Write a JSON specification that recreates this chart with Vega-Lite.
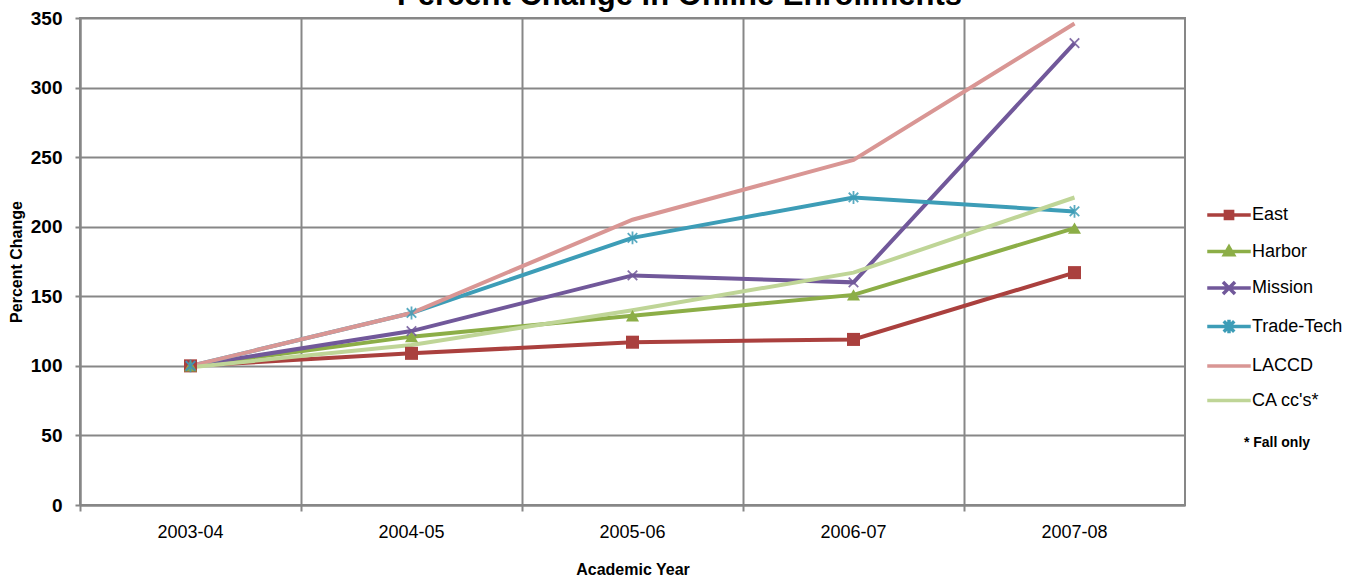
{
  "$schema": "https://vega.github.io/schema/vega-lite/v6.json",
  "width": 1105,
  "height": 487,
  "autosize": {"type": "none"},
  "padding": {"left": 80, "top": 18, "right": 174, "bottom": 74},
  "background": "white",
  "title": {
    "text": "Percent Change in Online Enrollments",
    "fontSize": 31,
    "fontWeight": "bold",
    "font": "Liberation Sans",
    "color": "#000000",
    "anchor": "middle",
    "dx": 47,
    "offset": 0,
    "dy": 27,
    "baseline": "alphabetic"
  },
  "config": {
    "view": {"stroke": "#878787", "strokeWidth": 2},
    "font": "Liberation Sans"
  },
  "data": {
    "values": [
      {"year": "2003-04", "series": "East", "value": 100},
      {"year": "2004-05", "series": "East", "value": 109},
      {"year": "2005-06", "series": "East", "value": 117},
      {"year": "2006-07", "series": "East", "value": 119},
      {"year": "2007-08", "series": "East", "value": 167},
      {"year": "2003-04", "series": "Harbor", "value": 100},
      {"year": "2004-05", "series": "Harbor", "value": 121},
      {"year": "2005-06", "series": "Harbor", "value": 136},
      {"year": "2006-07", "series": "Harbor", "value": 151},
      {"year": "2007-08", "series": "Harbor", "value": 199},
      {"year": "2003-04", "series": "Mission", "value": 100},
      {"year": "2004-05", "series": "Mission", "value": 125},
      {"year": "2005-06", "series": "Mission", "value": 165},
      {"year": "2006-07", "series": "Mission", "value": 160},
      {"year": "2007-08", "series": "Mission", "value": 332},
      {"year": "2003-04", "series": "Trade-Tech", "value": 100},
      {"year": "2004-05", "series": "Trade-Tech", "value": 138},
      {"year": "2005-06", "series": "Trade-Tech", "value": 192},
      {"year": "2006-07", "series": "Trade-Tech", "value": 221},
      {"year": "2007-08", "series": "Trade-Tech", "value": 211},
      {"year": "2003-04", "series": "LACCD", "value": 100},
      {"year": "2004-05", "series": "LACCD", "value": 138},
      {"year": "2005-06", "series": "LACCD", "value": 205},
      {"year": "2006-07", "series": "LACCD", "value": 248},
      {"year": "2007-08", "series": "LACCD", "value": 346},
      {"year": "2003-04", "series": "CA cc's*", "value": 99},
      {"year": "2004-05", "series": "CA cc's*", "value": 115},
      {"year": "2005-06", "series": "CA cc's*", "value": 140},
      {"year": "2006-07", "series": "CA cc's*", "value": 167},
      {"year": "2007-08", "series": "CA cc's*", "value": 221}
    ]
  },
  "encoding": {
    "x": {
      "field": "year",
      "type": "ordinal",
      "sort": null,
      "scale": {"type": "band", "paddingInner": 0, "paddingOuter": 0},
      "axis": {
        "title": "Academic Year",
        "titleFontSize": 16,
        "titleFontWeight": "bold",
        "titleColor": "#000000",
        "titlePadding": 20,
        "labelAngle": 0,
        "labelFontSize": 18,
        "labelColor": "#000000",
        "labelPadding": 12,
        "bandPosition": 0,
        "grid": true,
        "gridColor": "#878787",
        "gridWidth": 2,
        "domainColor": "#878787",
        "domainWidth": 2,
        "tickColor": "#878787",
        "tickWidth": 2,
        "tickSize": 6
      }
    },
    "y": {
      "field": "value",
      "type": "quantitative",
      "scale": {"domain": [0, 350], "nice": false},
      "axis": {
        "title": "Percent Change",
        "titleFontSize": 16,
        "titleFontWeight": "bold",
        "titleColor": "#000000",
        "titlePadding": 6,
        "values": [0, 50, 100, 150, 200, 250, 300, 350],
        "labelFontSize": 19,
        "labelFontWeight": "bold",
        "labelColor": "#000000",
        "labelPadding": 13,
        "grid": true,
        "gridColor": "#878787",
        "gridWidth": 2,
        "domainColor": "#878787",
        "domainWidth": 2,
        "tickColor": "#878787",
        "tickWidth": 2,
        "tickSize": 5
      }
    },
    "color": {
      "field": "series",
      "type": "nominal",
      "scale": {
        "domain": ["East", "Harbor", "Mission", "Trade-Tech", "LACCD", "CA cc's*"],
        "range": ["#AA403E", "#8CAE47", "#71589A", "#3D9DB7", "#D99694", "#BFD597"]
      },
      "legend": {
        "orient": "none",
        "legendX": 1132,
        "legendY": 180,
        "padding": 0,
        "title": "* Fall only",
        "titleOrient": "bottom",
        "titleAnchor": "middle",
        "titleFontSize": 14,
        "titleFontWeight": "bold",
        "titleColor": "#000000",
        "titlePadding": 26,
        "labelFontSize": 18,
        "labelColor": "#000000",
        "labelOffset": 6,
        "symbolSize": 900,
        "rowPadding": 8.5,
        "encode": {
          "symbols": {
            "update": {
              "shape": {"signal": "datum.value === 'East' ? 'M-1.45,0H1.45M-0.24,-0.24H0.24V0.24H-0.24Z' : datum.value === 'Harbor' ? 'M-1.45,0H1.45M0,-0.3L0.3,0.22H-0.3Z' : datum.value === 'Mission' ? 'M-1.45,0H1.45M-0.4,-0.4L0.4,0.4M-0.4,0.4L0.4,-0.4' : datum.value === 'Trade-Tech' ? 'M-1.45,0H1.45M-0.35,-0.35L0.35,0.35M-0.35,0.35L0.35,-0.35M0,-0.45V0.45' : 'M-1.45,0H1.45'"},
              "fill": {"scale": "color", "field": "value"},
              "stroke": {"scale": "color", "field": "value"},
              "strokeWidth": {"value": 3.5},
              "fillOpacity": {"value": 1},
              "opacity": {"value": 1}
            }
          }
        }
      }
    }
  },
  "layer": [
    {
      "mark": {"type": "line", "strokeWidth": 4}
    },
    {
      "transform": [{"filter": "datum.series === 'East'"}],
      "mark": {"type": "point", "shape": "square", "filled": true, "size": 170, "opacity": 1}
    },
    {
      "transform": [{"filter": "datum.series === 'Harbor'"}],
      "mark": {"type": "point", "shape": "triangle-up", "filled": true, "size": 170, "opacity": 1}
    },
    {
      "transform": [{"filter": "datum.series === 'Mission'"}],
      "mark": {"type": "point", "shape": "M-1,-1L1,1M-1,1L1,-1", "filled": false, "size": 90, "strokeWidth": 1.8, "opacity": 0.85}
    },
    {
      "transform": [{"filter": "datum.series === 'Trade-Tech'"}],
      "mark": {"type": "point", "shape": "M-1,-1L1,1M-1,1L1,-1M0,-1.35L0,1.35", "filled": false, "size": 90, "strokeWidth": 1.8, "opacity": 0.85}
    }
  ]
}
